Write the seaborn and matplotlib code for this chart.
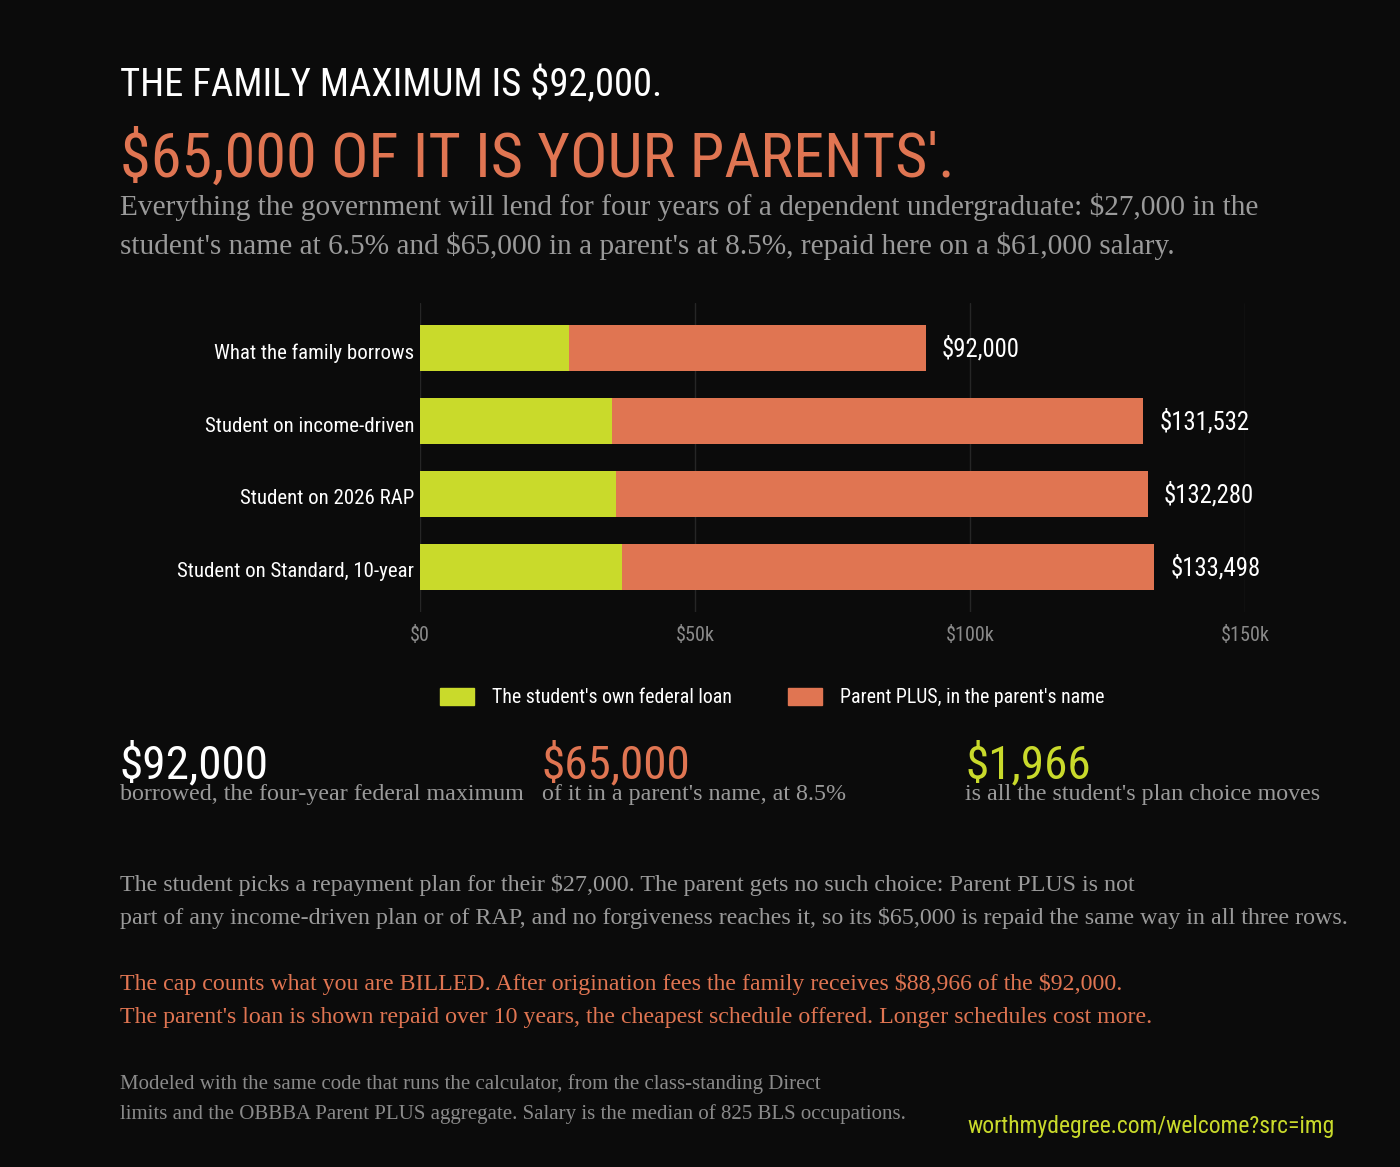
import matplotlib
matplotlib.use("Agg")
import matplotlib.pyplot as plt
import matplotlib.font_manager as fm
import matplotlib.transforms as mtransforms
import seaborn as sns
import pandas as pd
from matplotlib.patches import Rectangle

# ---- data ----
rows = ["What the family borrows", "Student on income-driven",
        "Student on 2026 RAP", "Student on Standard, 10-year"]
student = [27000, 34821, 35569, 36787]
parent = [65000, 96711, 96711, 96711]
totals = [92000, 131532, 132280, 133498]
xticks = [0, 50000, 100000, 150000]
xtick_labels = ["$0", "$50k", "$100k", "$150k"]
legend_labels = ["The student's own federal loan", "Parent PLUS, in the parent's name"]
stat_values = ["$92,000", "$65,000", "$1,966"]
stat_notes = ["borrowed, the four-year federal maximum",
              "of it in a parent's name, at 8.5%",
              "is all the student's plan choice moves"]

BG = "#0b0b0b"
GREEN = "#c9da2b"
ORANGE = "#e07552"
GRAY = "#9a9a9a"
TICK = "#8a8a8a"

sns.set_theme(style="dark")
avail = {f.name for f in fm.fontManager.ttflist}
dejavu_cond = any(f.name == "DejaVu Sans" and f.stretch == "condensed" for f in fm.fontManager.ttflist)


def pick(cands, default):
    return next((c for c in cands if c in avail), default)


COND = pick(["Roboto Condensed", "Liberation Sans Narrow", "Open Sans Condensed"], "DejaVu Sans")
STRETCH = "condensed" if (COND == "DejaVu Sans" and dejavu_cond) else "normal"
SERIF = pick(["Liberation Serif", "DejaVu Serif"], "DejaVu Serif")
plt.rcParams["font.family"] = [COND, "DejaVu Sans"]
plt.rcParams["font.stretch"] = STRETCH
plt.rcParams["text.parse_math"] = False

W, H = 1400, 1167
fig = plt.figure(figsize=(W / 100, H / 100), dpi=100, facecolor=BG)
ax = fig.add_axes([420 / W, 1 - 612 / H, 825 / W, 309 / H])
ax.set_facecolor(BG)

df = pd.DataFrame({"row": rows, "student": student, "parent": parent, "total": totals})
sns.barplot(data=df, x="total", y="row", color=ORANGE, width=0.63, orient="h",
            saturation=1, ax=ax, linewidth=0)
sns.barplot(data=df, x="student", y="row", color=GREEN, width=0.63, orient="h",
            saturation=1, ax=ax, linewidth=0)

for i, t in enumerate(totals):
    ax.annotate(f"${t:,}", (t, i), xytext=(16, -1), textcoords="offset pixels",
                color="white", fontsize=17.8, va="center", ha="left")

ax.set_xlim(0, 150000)
ax.set_ylim(3.62, -0.62)
ax.set_xticks(xticks)
ax.set_xticklabels(xtick_labels, color=TICK, fontsize=14.5)
ax.tick_params(axis="x", length=0, pad=10)
ax.tick_params(axis="y", length=0, pad=4, labelcolor="white", labelsize=15)
shift = mtransforms.ScaledTranslation(0, -3 / 100, fig.dpi_scale_trans)
for lab in ax.get_yticklabels():
    lab.set_va("center_baseline")
    lab.set_transform(lab.get_transform() + shift)
ax.set_xlabel("")
ax.set_ylabel("")
ax.grid(axis="x", color="#262626", linewidth=1)
ax.grid(axis="y", visible=False)
ax.set_axisbelow(True)
for s in ax.spines.values():
    s.set_visible(False)


def px(x, y):
    return x / W, 1 - y / H


# legend
for (lx, col), lab in zip([(440, GREEN), (788, ORANGE)], legend_labels):
    fig.patches.append(Rectangle(px(lx, 705), 34 / W, 17 / H, transform=fig.transFigure,
                                 color=col, zorder=3))
    fig.text(*px(lx + 52, 703), lab, color="white", fontsize=14.3, va="baseline")

# title block
fig.text(*px(120, 96), "THE FAMILY MAXIMUM IS $92,000.", color="white", fontsize=27.8, va="baseline")
fig.text(*px(120, 177), "$65,000 OF IT IS YOUR PARENTS'.", color=ORANGE, fontsize=44.8, va="baseline")
fig.text(*px(120, 215), "Everything the government will lend for four years of a dependent undergraduate: "
         "$27,000 in the", color=GRAY, fontsize=21.2, family=SERIF, va="baseline")
fig.text(*px(120, 254), "student's name at 6.5% and $65,000 in a parent's at 8.5%, repaid here on a "
         "$61,000 salary.", color=GRAY, fontsize=21.2, family=SERIF, va="baseline")

# stat row
for sx, val, note, col in zip([120, 542, 965], stat_values, stat_notes, ["white", ORANGE, GREEN]):
    fig.text(*px(sx, 778), val, color=col, fontsize=34, va="baseline")
    fig.text(*px(sx, 800), note, color=GRAY, fontsize=17.3, family=SERIF, va="baseline")

# paragraphs
fig.text(*px(120, 891), "The student picks a repayment plan for their $27,000. The parent gets no such "
         "choice: Parent PLUS is not", color=GRAY, fontsize=17.3, family=SERIF, va="baseline")
fig.text(*px(120, 924), "part of any income-driven plan or of RAP, and no forgiveness reaches it, so its "
         "$65,000 is repaid the same way in all three rows.", color=GRAY, fontsize=17.3,
         family=SERIF, va="baseline")
fig.text(*px(120, 990), "The cap counts what you are BILLED. After origination fees the family receives "
         "$88,966 of the $92,000.", color=ORANGE, fontsize=17.2, family=SERIF, va="baseline")
fig.text(*px(120, 1023), "The parent's loan is shown repaid over 10 years, the cheapest schedule offered. "
         "Longer schedules cost more.", color=ORANGE, fontsize=17.2, family=SERIF, va="baseline")
fig.text(*px(120, 1089), "Modeled with the same code that runs the calculator, from the class-standing "
         "Direct", color="#8a8a8a", fontsize=15, family=SERIF, va="baseline")
fig.text(*px(120, 1119), "limits and the OBBBA Parent PLUS aggregate. Salary is the median of 825 BLS "
         "occupations.", color="#8a8a8a", fontsize=15, family=SERIF, va="baseline")
fig.text(*px(1335, 1133), "worthmydegree.com/welcome?src=img", color=GREEN, fontsize=17,
         ha="right", va="baseline")

fig.savefig("out.png", dpi=100, facecolor=BG)
